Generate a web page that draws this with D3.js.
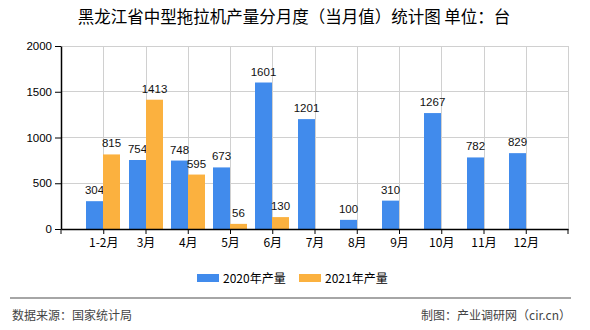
<!DOCTYPE html>
<html><head><meta charset="utf-8">
<script src="https://cdn.jsdelivr.net/npm/d3@7"></script>
<style>
body{margin:0;background:#fff;}
svg{display:block;}
text{font-family:"Liberation Sans","Noto Sans CJK SC",sans-serif;}
.cjk{font-family:"Noto Sans CJK SC","Liberation Sans",sans-serif;}
</style></head>
<body>
<script>
const categories = ["1-2月","3月","4月","5月","6月","7月","8月","9月","10月","11月","12月"];
const values2020 = [304,754,748,673,1601,1201,100,310,1267,782,829];
const values2021 = [815,1413,595,56,130,null,null,null,null,null,null];
const seriesNames = ["2020年产量","2021年产量"];
const yTicks = [0,500,1000,1500,2000];
const colors = ["#418bec","#fbb13f"];

(function(){
const W=590,H=330;
const svg=d3.select("body").append("svg").attr("width",W).attr("height",H);
const pL=61,pR=568,pT=46,pB=229;
const x=d3.scalePoint().domain(categories).range([pL,pR]).padding(1);
const y=d3.scaleLinear().domain([0,2000]).range([pB,pT]);
const bw=17;

// title
svg.append("text").attr("class","cjk").attr("x",294).attr("y",23).attr("text-anchor","middle")
  .attr("font-size",16.5).attr("fill","#000").text("黑龙江省中型拖拉机产量分月度（当月值）统计图 单位：台");

// grid
const g=svg.append("g");
g.selectAll(".hg").data(yTicks.filter(d=>d>0)).join("line")
  .attr("x1",pL).attr("x2",pR).attr("y1",d=>y(d)).attr("y2",d=>y(d))
  .attr("stroke","#d0d0d0").attr("stroke-width",1).attr("shape-rendering","crispEdges");
g.selectAll(".vg").data(categories).join("line")
  .attr("x1",d=>Math.round(x(d))).attr("x2",d=>Math.round(x(d))).attr("y1",pT).attr("y2",pB)
  .attr("stroke","#d0d0d0").attr("stroke-width",1).attr("shape-rendering","crispEdges");
g.append("line").attr("x1",pR).attr("x2",pR).attr("y1",pT).attr("y2",pB)
  .attr("stroke","#d0d0d0").attr("shape-rendering","crispEdges");

// bars
const series=[values2020,values2021];
series.forEach((vals,si)=>{
  const data=categories.map((c,i)=>({c,v:vals[i]})).filter(d=>d.v!=null);
  const off = si===0 ? -bw : 0;
  svg.append("g").selectAll("rect").data(data).join("rect")
    .attr("x",d=>Math.round(x(d.c))+off).attr("width",bw)
    .attr("y",d=>y(d.v)).attr("height",d=>pB-y(d.v))
    .attr("fill",colors[si]);
  svg.append("g").selectAll("text").data(data).join("text")
    .attr("x",d=>Math.round(x(d.c))+off+bw/2).attr("y",d=>y(d.v)-7)
    .attr("text-anchor","middle").attr("font-size",11.5).attr("fill","#111").text(d=>d.v);
});

// y axis
const ya=svg.append("g").attr("transform",`translate(${pL},0)`)
  .call(d3.axisLeft(y).tickValues(yTicks).tickFormat(d3.format("d")).tickSize(6).tickPadding(3).tickSizeOuter(0));
ya.select(".domain").attr("stroke","#000").attr("stroke-width",1.5);
ya.selectAll(".tick line").attr("stroke","#000");
ya.selectAll("text").attr("font-size",11.5).attr("fill","#000").attr("font-family","Liberation Sans");

// x axis
const xa=svg.append("g").attr("transform",`translate(0,${pB})`)
  .call(d3.axisBottom(x).tickSize(5).tickPadding(4).tickSizeOuter(0));
xa.select(".domain").attr("stroke","#000").attr("stroke-width",1.5);
xa.selectAll(".tick line").attr("stroke","#000");
xa.selectAll("text").attr("font-size",12).attr("fill","#000").attr("class","cjk");
[pL,pR].forEach(px=>svg.append("line").attr("x1",px).attr("x2",px).attr("y1",pB).attr("y2",pB+5).attr("stroke","#000"));

// legend
const lx=[197,299];
seriesNames.forEach((n,i)=>{
  svg.append("rect").attr("x",lx[i]).attr("y",274).attr("width",22).attr("height",8).attr("fill",colors[i]);
  svg.append("text").attr("class","cjk").attr("x",lx[i]+26).attr("y",282.5).attr("font-size",12).attr("fill","#000").text(n);
});

// footer
svg.append("line").attr("x1",10).attr("x2",571).attr("y1",298).attr("y2",298).attr("stroke","#888").attr("stroke-width",1.5);
svg.append("text").attr("class","cjk").attr("x",12).attr("y",320).attr("font-size",12).attr("fill","#444").text("数据来源：国家统计局");
svg.append("text").attr("class","cjk").attr("x",571).attr("y",320).attr("text-anchor","end").attr("font-size",12).attr("fill","#444").text("制图：产业调研网（cir.cn）");
})();
</script>
</body></html>
